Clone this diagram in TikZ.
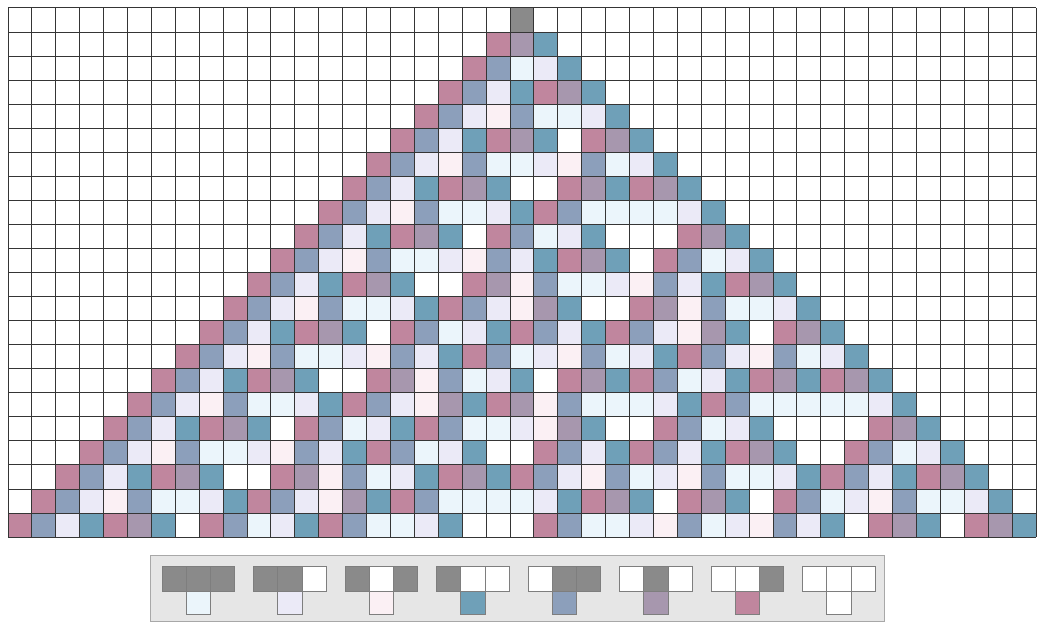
\documentclass[tikz,border=0pt]{standalone}
\definecolor{c0}{HTML}{FFFFFF}
\definecolor{c1}{HTML}{C0869E}
\definecolor{c2}{HTML}{A797AE}
\definecolor{c3}{HTML}{8C9FBB}
\definecolor{c4}{HTML}{6FA0B8}
\definecolor{c5}{HTML}{FBF0F4}
\definecolor{c6}{HTML}{EBEAF7}
\definecolor{c7}{HTML}{EBF5FB}
\definecolor{seed}{HTML}{8A8A8A}
\definecolor{gridc}{HTML}{353535}
\definecolor{legbg}{HTML}{E6E6E6}
\definecolor{legframe}{HTML}{A8A8A8}
\definecolor{legline}{HTML}{7E7E7E}
\tikzset{
  gridline/.style={draw=gridc,line width=1bp},
  legcell/.style={draw=legline,line width=1bp},
}
\begin{document}
\begin{tikzpicture}[x=1bp,y=-1bp]
\useasboundingbox (0,0) rectangle (1037,622);
\fill[white] (0,0) rectangle (1037,622);
\def\cw{23.907}\def\ch{24.05}
% initial row
\foreach \c in {-1,...,43}{\expandafter\xdef\csname s0-\c\endcsname{0}}
\expandafter\xdef\csname s0-21\endcsname{1}
\foreach \r in {1,...,21}{%
  \expandafter\xdef\csname s\r--1\endcsname{0}%
  \expandafter\xdef\csname s\r-43\endcsname{0}%
}
\fill[seed] ({8+21*\cw},8) rectangle ({8+22*\cw},{8+\ch});
% rule 30 evolution, coloured by neighbourhood
\foreach \r in {1,...,21}{%
  \foreach \c in {0,...,42}{%
    \pgfmathtruncatemacro\pr{\r-1}%
    \pgfmathtruncatemacro\lc{\c-1}%
    \pgfmathtruncatemacro\rc{\c+1}%
    \edef\va{\csname s\pr-\lc\endcsname}%
    \edef\vb{\csname s\pr-\c\endcsname}%
    \edef\vc{\csname s\pr-\rc\endcsname}%
    \pgfmathtruncatemacro\idx{4*\va+2*\vb+\vc}%
    \pgfmathtruncatemacro\nv{(\idx>0)*(\idx<5)}%
    \expandafter\xdef\csname s\r-\c\endcsname{\nv}%
    \fill[c\idx] ({8+\c*\cw},{8+\r*\ch}) rectangle ({8+(\c+1)*\cw},{8+(\r+1)*\ch});
  }%
}
% grid
\foreach \c in {0,...,43} \draw[gridline] ({8+\c*\cw},8) -- ({8+\c*\cw},{8+22*\ch});
\foreach \r in {0,...,22} \draw[gridline] (8,{8+\r*\ch}) -- ({8+43*\cw},{8+\r*\ch});
% legend
\filldraw[fill=legbg,draw=legframe,line width=1bp] (150,555) rectangle (884,621);
\foreach \i in {0,...,7}{%
  \pgfmathtruncatemacro\k{7-\i}%
  \pgfmathtruncatemacro\ba{\k>=4}%
  \pgfmathtruncatemacro\bb{mod(\k,4)>=2}%
  \pgfmathtruncatemacro\bc{mod(\k,2)}%
  \pgfmathsetmacro\xo{162+91.5*\i}%
  \pgfmathsetmacro\wc{24.3}%
  \ifnum\ba=1 \def\fa{seed}\else\def\fa{white}\fi
  \ifnum\bb=1 \def\fb{seed}\else\def\fb{white}\fi
  \ifnum\bc=1 \def\fc{seed}\else\def\fc{white}\fi
  \filldraw[legcell,fill=\fa] (\xo,566) rectangle ({\xo+\wc},591);
  \filldraw[legcell,fill=\fb] ({\xo+\wc},566) rectangle ({\xo+2*\wc},591);
  \filldraw[legcell,fill=\fc] ({\xo+2*\wc},566) rectangle ({\xo+3*\wc},591);
  \filldraw[legcell,fill=c\k] ({\xo+\wc},591) rectangle ({\xo+2*\wc},614);
}
\end{tikzpicture}
\end{document}
